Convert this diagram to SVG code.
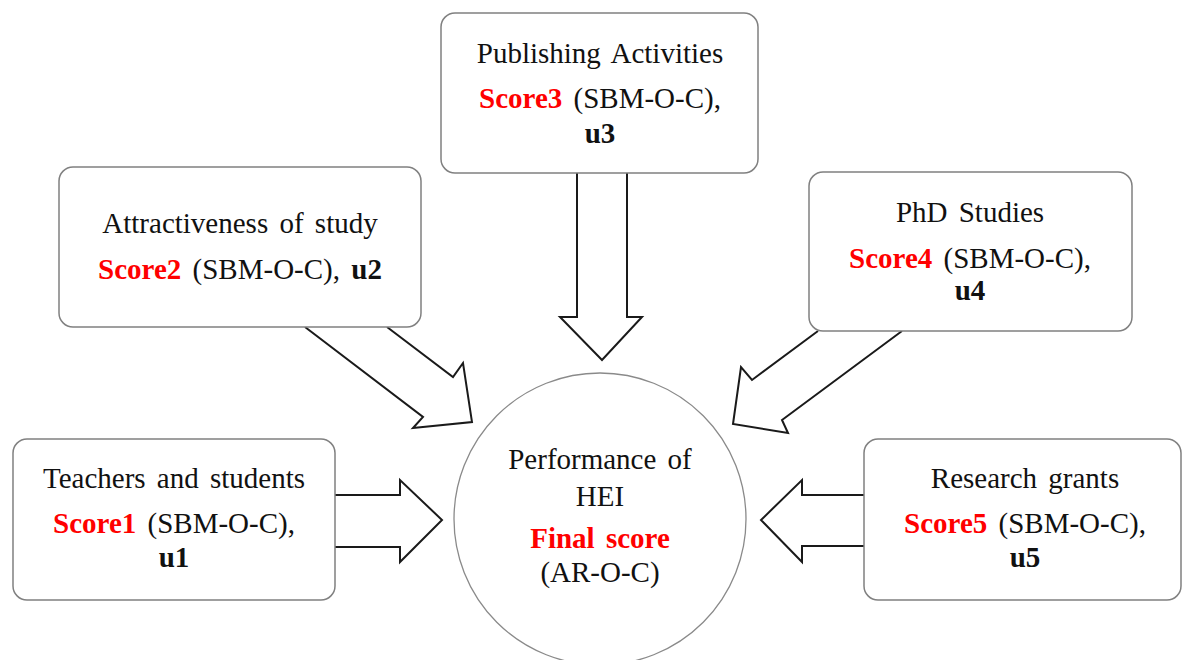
<svg xmlns="http://www.w3.org/2000/svg" width="1183" height="660" viewBox="0 0 1183 660">
<style>
  .box { fill: #ffffff; stroke: #808080; stroke-width: 1.5; }
  .circ { fill: #ffffff; stroke: #8a8a8a; stroke-width: 1.3; }
  .arr { fill: none; stroke: #1a1a1a; stroke-width: 2; stroke-linejoin: miter; }
  text { font-family: "Liberation Serif", "Times New Roman", serif; font-size: 29px; fill: #111111; text-anchor: middle; word-spacing: 4px; }
  .red { fill: #ff0000; font-weight: bold; }
  .b { font-weight: bold; }
</style>
<rect width="1183" height="660" fill="#ffffff"/>
<g id="connectors">
  <polyline class="arr" points="335,495 400,495 400,480 442,520 400,562 400,547 335,547"/>
  <polyline class="arr" points="864,495 802,495 802,480 761,520 802,562 802,546 864,546"/>
  <polyline class="arr" points="577,173 577,317 560,317 602,360 642,317 627,317 627,173"/>
  <polyline class="arr" points="305,327 423,417 413,428 472,422 463,363 453,377 387,327"/>
  <polyline class="arr" points="818,331 752,380 741,367 733,424 788,433 782,420 902,331"/>
</g>
<g id="node-final">
  <circle class="circ" cx="600" cy="519" r="146"/>
  <text x="600" y="469">Performance of</text>
  <text x="600" y="506">HEI</text>
  <text x="600" y="548" class="red">Final score</text>
  <text x="600" y="582">(AR-O-C)</text>
</g>
<g id="node-teachers">
  <rect class="box" x="13" y="439" width="322" height="161" rx="14"/>
  <text x="174" y="488">Teachers and students</text>
  <text x="174" y="533"><tspan class="red">Score1</tspan> (SBM-O-C),</text>
  <text x="174" y="567" class="b">u1</text>
</g>
<g id="node-attractiveness">
  <rect class="box" x="59" y="167" width="362" height="160" rx="14"/>
  <text x="240" y="233">Attractiveness of study</text>
  <text x="240" y="279"><tspan class="red">Score2</tspan> (SBM-O-C), <tspan class="b">u2</tspan></text>
</g>
<g id="node-publishing">
  <rect class="box" x="441" y="13" width="317" height="160" rx="14"/>
  <text x="600" y="63">Publishing Activities</text>
  <text x="600" y="108"><tspan class="red">Score3</tspan> (SBM-O-C),</text>
  <text x="600" y="143" class="b">u3</text>
</g>
<g id="node-phd">
  <rect class="box" x="809" y="172" width="323" height="159" rx="14"/>
  <text x="970" y="222">PhD Studies</text>
  <text x="970" y="268"><tspan class="red">Score4</tspan> (SBM-O-C),</text>
  <text x="970" y="300" class="b">u4</text>
</g>
<g id="node-research">
  <rect class="box" x="864" y="439" width="317" height="161" rx="14"/>
  <text x="1025" y="488">Research grants</text>
  <text x="1025" y="533"><tspan class="red">Score5</tspan> (SBM-O-C),</text>
  <text x="1025" y="567" class="b">u5</text>
</g>
</svg>
